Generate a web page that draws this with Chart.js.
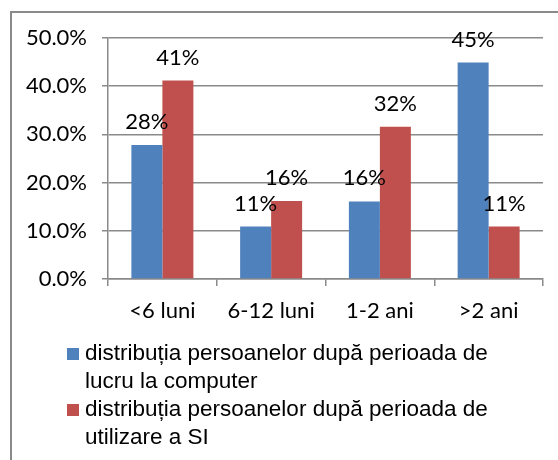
<!DOCTYPE html>
<html>
<head>
<meta charset="utf-8">
<script src="https://cdn.jsdelivr.net/npm/chart.js@4/dist/chart.umd.min.js"></script>
<style>
  body { margin: 0; background: #fff; overflow: hidden; }
  #wrap { position: absolute; left: 0; top: 0; width: 558px; height: 460px; }
  #frame { position: absolute; left: 10px; top: 11px; width: 600px; height: 500px; border: 2px solid #8a8a8a; box-sizing: border-box; }
</style>
</head>
<body>
<div id="frame"></div>
<div id="wrap"><canvas id="grafic" width="558" height="460"></canvas></div>
<script>
// categorii si valori (procente)
var categorii = ['<6 luni', '6-12 luni', '1-2 ani', '>2 ani'];
var valoriComputer = [27.8, 10.9, 16.1, 44.9];
var valoriSI = [41.2, 16.2, 31.6, 10.9];
var legenda = [
  ['distribuția persoanelor după perioada de', 'lucru la computer'],
  ['distribuția persoanelor după perioada de', 'utilizare a SI']
];
var culori = ['#4F81BD', '#C0504D'];

var fontAxa = '22px Lato';

// etichete deasupra barelor
var eticheteBare = {
  id: 'eticheteBare',
  afterDatasetsDraw: function (chart) {
    var ctx = chart.ctx;
    ctx.save();
    ctx.font = fontAxa;
    ctx.fillStyle = '#000';
    ctx.textAlign = 'center';
    ctx.textBaseline = 'middle';
    chart.data.datasets.forEach(function (ds, i) {
      chart.getDatasetMeta(i).data.forEach(function (bar, j) {
        ctx.fillText(Math.round(ds.data[j]) + '%', bar.x, bar.y - 23);
      });
    });
    ctx.restore();
  }
};

// legenda pe mai multe randuri
var legendaJos = {
  id: 'legendaJos',
  afterDraw: function (chart) {
    var ctx = chart.ctx;
    ctx.save();
    ctx.font = '22.5px "Liberation Sans"';
    ctx.textBaseline = 'middle';
    var y = 354;
    chart.data.datasets.forEach(function (ds, i) {
      ctx.fillStyle = ds.backgroundColor;
      ctx.fillRect(67, y - 6, 12, 12);
      ctx.fillStyle = '#000';
      legenda[i].forEach(function (linie) {
        ctx.fillText(linie, 85, y);
        y += 28;
      });
    });
    ctx.restore();
  }
};

new Chart(document.getElementById('grafic').getContext('2d'), {
  type: 'bar',
  data: {
    labels: categorii,
    datasets: [
      { label: legenda[0].join(' '), data: valoriComputer, backgroundColor: culori[0] },
      { label: legenda[1].join(' '), data: valoriSI, backgroundColor: culori[1] }
    ]
  },
  options: {
    responsive: false,
    animation: false,
    layout: { padding: { left: 0, right: 15, top: 38, bottom: 0 } },
    datasets: { bar: { barPercentage: 1, categoryPercentage: 0.57 } },
    plugins: { legend: { display: false }, tooltip: { enabled: false } },
    scales: {
      x: {
        grid: { drawOnChartArea: false, color: '#8a8a8a', lineWidth: 1.5, tickLength: 7 },
        border: { color: '#8a8a8a', width: 1.5 },
        ticks: { color: '#000', font: { family: 'Lato', size: 22 }, padding: 12 },
        afterFit: function (scale) { scale.height = 181; }
      },
      y: {
        min: 0,
        max: 50,
        ticks: {
          stepSize: 10,
          color: '#000',
          font: { family: 'Lato', size: 22 },
          padding: 15,
          callback: function (v) { return v.toFixed(1) + '%'; }
        },
        grid: { color: '#8a8a8a', lineWidth: 1.5, tickLength: 6 },
        border: { color: '#8a8a8a', width: 1.5 },
        afterFit: function (scale) { scale.width = 108; }
      }
    }
  },
  plugins: [eticheteBare, legendaJos]
});
</script>
</body>
</html>
